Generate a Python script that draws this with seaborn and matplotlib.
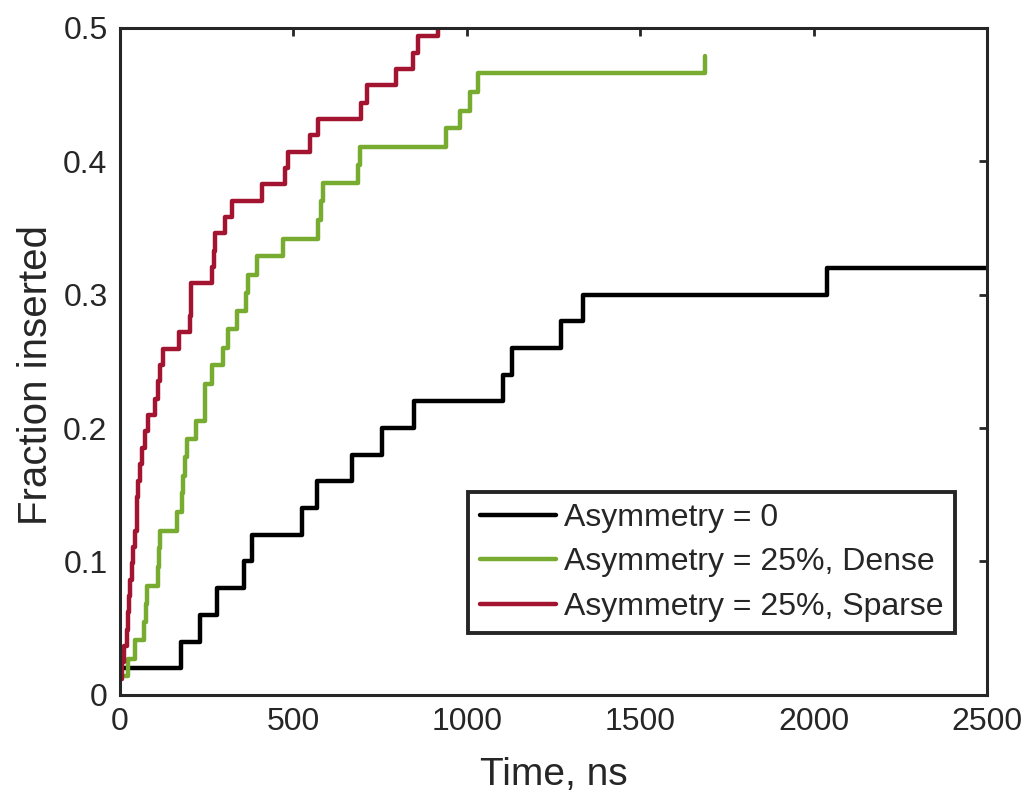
import pandas as pd
import matplotlib
matplotlib.use("Agg")
import matplotlib.pyplot as plt
import seaborn as sns
from matplotlib.ticker import FormatStrFormatter

# Courbes (temps en ns, fraction insérée)
labels = ["Asymmetry = 0", "Asymmetry = 25%, Dense", "Asymmetry = 25%, Sparse"]
colors = ["#000000", "#77AC30", "#A2142F"]

black_t = [0, 176, 230, 279, 357, 380, 524, 567, 670, 755, 847, 1103, 1131,
           1271, 1335, 2040, 2500]
black_f = [0.02, 0.04, 0.06, 0.08, 0.10, 0.12, 0.14, 0.16, 0.18, 0.20, 0.22,
           0.24, 0.26, 0.28, 0.30, 0.32, 0.32]

green_t = [15, 24, 43, 70, 74, 77, 110, 113, 116, 163, 178, 182, 187, 192,
           218, 244, 246, 264, 298, 312, 336, 362, 370, 394, 471, 572, 580,
           586, 687, 692, 941, 980, 1009, 1033, 1686]
green_f = [0.014, 0.027, 0.041, 0.055, 0.068, 0.082, 0.096, 0.110, 0.123,
           0.137, 0.151, 0.164, 0.178, 0.192, 0.205, 0.219, 0.233, 0.247,
           0.260, 0.274, 0.288, 0.301, 0.315, 0.329, 0.342, 0.356, 0.370,
           0.384, 0.397, 0.411, 0.425, 0.438, 0.452, 0.466, 0.479]

red_t = [0, 5, 10, 19, 24, 26, 30, 34, 38, 44, 48, 50, 53, 58, 62, 72, 82,
         101, 110, 115, 125, 170, 202, 204, 206, 264, 272, 275, 303, 322,
         408, 476, 485, 548, 572, 696, 711, 797, 845, 860, 917]
red_f = [0.012, 0.025, 0.037, 0.049, 0.062, 0.074, 0.086, 0.099, 0.111,
         0.123, 0.136, 0.148, 0.160, 0.173, 0.185, 0.198, 0.210, 0.222,
         0.235, 0.247, 0.259, 0.272, 0.284, 0.296, 0.309, 0.321, 0.333,
         0.346, 0.358, 0.370, 0.383, 0.395, 0.407, 0.420, 0.432, 0.444,
         0.457, 0.469, 0.481, 0.494, 0.506]

xticks = [0, 500, 1000, 1500, 2000, 2500]
yticks = [0, 0.1, 0.2, 0.3, 0.4, 0.5]


def build_frame():
    """
    Assembler les trois séries dans un tableau long.
    """
    parts = []
    for name, t, f in zip(labels, [black_t, green_t, red_t],
                          [black_f, green_f, red_f]):
        parts.append(pd.DataFrame({"t": t, "f": f, "series": name}))
    return pd.concat(parts, ignore_index=True)


sns.set_theme(style="white")
plt.rcParams["font.family"] = ["Liberation Sans", "DejaVu Sans"]

data = build_frame()

fig = plt.figure(figsize=(10.26, 7.96), dpi=100)
ax = fig.add_axes([0.117, 0.127, 0.845, 0.838])

sns.lineplot(
    data=data, x="t", y="f", hue="series", hue_order=labels,
    palette=colors, drawstyle="steps-post", estimator=None, sort=False,
    linewidth=3.2, legend=False, ax=ax,
)

ax.set_xlim(0, 2500)
ax.set_ylim(0, 0.5)
ax.set_xticks(xticks)
ax.set_yticks(yticks)
ax.yaxis.set_major_formatter(FormatStrFormatter("%g"))
ax.tick_params(direction="in", length=6, width=2, labelsize=23,
               colors="#262626", top=True, right=True, pad=9)
for sp in ax.spines.values():
    sp.set_color("#262626")
    sp.set_linewidth(2.2)

ax.set_xlabel("Time, ns", fontsize=28, color="#262626", labelpad=14)
ax.set_ylabel("Fraction inserted", fontsize=29, color="#262626", labelpad=6)
ax.yaxis.label.set_y(0.48)

leg = ax.legend(
    ax.lines[:3], labels, loc="lower right", bbox_to_anchor=(0.963, 0.093),
    borderaxespad=0, fontsize=23, frameon=True, fancybox=False,
    framealpha=1, edgecolor="#262626", handlelength=2.4,
    handletextpad=0.25, labelspacing=0.45, borderpad=0.35,
)
leg.get_frame().set_linewidth(2.8)

plt.savefig("out.png", dpi=100)
plt.close()
